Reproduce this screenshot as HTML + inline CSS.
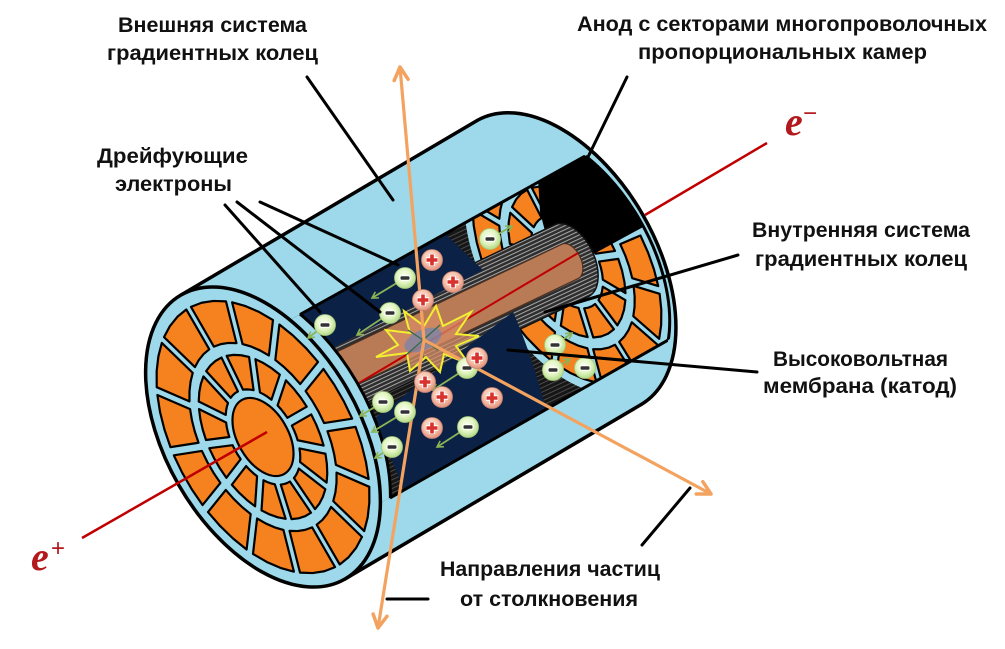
<!DOCTYPE html>
<html><head><meta charset="utf-8">
<style>
html,body{margin:0;padding:0;background:#fff;width:1005px;height:649px;overflow:hidden}
svg{display:block}
.cell{fill:#f6821f;stroke:#000;stroke-width:2.2px;vector-effect:non-scaling-stroke;stroke-linejoin:round}
.lbl{font-family:"Liberation Sans","DejaVu Sans",sans-serif;font-weight:bold;font-size:21px;fill:#111}
.ptr{stroke:#000;stroke-width:3;fill:none;stroke-linecap:round}
.oar{stroke:#f3a35f;stroke-width:3.2;fill:none;marker-end:url(#oa)}
.gar{stroke:#8cb356;stroke-width:1.8;fill:none;marker-end:url(#ga)}
</style></head><body>
<svg width="1005" height="649" viewBox="0 0 1005 649" xmlns="http://www.w3.org/2000/svg">
<defs>
 <clipPath id="cStrip"><polygon points="285,322.8 700,92.2 700,322 365,512"/></clipPath>
 <clipPath id="cFar"><path d="M494.5,136.4 A145,84 60 0 1 639.5,387.6 L639.5,700 L0,700 L0,0 L494.5,0 Z"/></clipPath>
 <clipPath id="cTube"><path d="M271.8,382.85 L561.8,244.25 A19,11 64.5 0 1 578.2,278.55 L288.2,417.15 Z"/></clipPath>
 <pattern id="hatch" width="3.6" height="4" patternUnits="userSpaceOnUse" patternTransform="rotate(65)">
  <rect width="3.6" height="4" fill="#2e2e2e"/><rect width="1" height="4" fill="#a8a8a8"/>
 </pattern>
 <pattern id="hatch2" width="4" height="4" patternUnits="userSpaceOnUse" patternTransform="rotate(65)">
  <rect width="4" height="4" fill="#161616"/><rect width="1" height="4" fill="#4a4a4a"/>
 </pattern>
 <radialGradient id="gEl" cx="0.45" cy="0.4" r="0.6">
  <stop offset="0" stop-color="#fbfff0"/><stop offset="0.55" stop-color="#e3f5c4"/><stop offset="1" stop-color="#b3da85"/>
 </radialGradient>
 <radialGradient id="gIon" cx="0.45" cy="0.4" r="0.6">
  <stop offset="0" stop-color="#fff0e6"/><stop offset="0.55" stop-color="#f6c6b0"/><stop offset="1" stop-color="#e2907a"/>
 </radialGradient>
 <marker id="oa" markerUnits="userSpaceOnUse" markerWidth="30" markerHeight="30" viewBox="-15 -15 30 30" refX="0" refY="0" orient="auto">
  <path d="M-13,-7 L0,0 L-13,7" stroke="#f3a35f" stroke-width="3.5" fill="none" stroke-linecap="round" stroke-linejoin="round"/>
 </marker>
 <marker id="ga" markerUnits="userSpaceOnUse" markerWidth="14" markerHeight="14" viewBox="-7 -7 14 14" refX="0" refY="0" orient="auto">
  <path d="M-6,-3.5 L0,0 L-6,3.5" stroke="#8cb356" stroke-width="1.6" fill="none"/>
 </marker>
 <g id="el"><circle r="10.5" fill="url(#gEl)" stroke="#a6c87c" stroke-width="0.8"/><rect x="-5" y="-2.2" width="10" height="4.4" rx="1.6" fill="#333" stroke="#fff" stroke-width="1"/></g>
 <g id="ion"><circle r="10.5" fill="url(#gIon)" stroke="#c98270" stroke-width="0.8"/><path d="M-6,0H6M0,-6V6" stroke="#fff" stroke-width="5.6"/><path d="M-5.5,0H5.5M0,-5.5V5.5" stroke="#d7322e" stroke-width="3.6"/></g>
</defs>

<!-- beam right segment (behind body) -->
<line x1="645" y1="215" x2="767" y2="143" stroke="#c00000" stroke-width="2.5"/>

<!-- cylinder body -->
<path d="M181,295 L478,120 A164,97 60 0 1 642,404 L345,579 Z" fill="#9dd9ea" stroke="#000" stroke-width="3.5" stroke-linejoin="round"/>

<!-- cut-away interior -->
<g clip-path="url(#cStrip)">
 <g clip-path="url(#cFar)">
  <rect x="240" y="80" width="470" height="510" fill="url(#hatch2)"/>
  <g transform="matrix(72.5,125.6,72.7,-42,567,262)">
   <circle r="1" fill="#9dd9ea"/>
   <g id="farCells"></g>
  </g>
  <polygon points="538,178 582,152 602,165 625,190 645,226 590,256 565,240 545,231 540,212" fill="#000"/>
  <!-- gray gradient rings cylinder -->
  <path d="M262.9,364.2 L554.9,224.6 A39.7,23 64.5 0 1 589.1,296.2 L297.1,435.8 Z" fill="url(#hatch)" stroke="#111" stroke-width="1.5"/>
  <!-- brown tube -->
  <path d="M271.8,382.85 L561.8,244.25 A19,11 64.5 0 1 578.2,278.55 L288.2,417.15 Z" fill="#b97a56" stroke="#4a2e20" stroke-width="1.2"/>
  <line x1="300" y1="418" x2="600" y2="240" stroke="#c00000" stroke-width="2" clip-path="url(#cTube)"/>
  <!-- navy membrane panels -->
  <polygon points="262,336 443,232 483,270 323,353 262,392" fill="#0b2145"/>
  <path d="M375,418 L450,360 L513,312 Q530,350 546,409 L404,490 Z" fill="#0b2145"/>
 </g>
 <path d="M494.5,136.4 A145,84 60 0 1 639.5,387.6" fill="none" stroke="#000" stroke-width="3"/>
 <ellipse cx="273" cy="431" rx="164" ry="97" transform="rotate(60 273 431)" fill="#9dd9ea" stroke="#000" stroke-width="3"/>
</g>
<g clip-path="url(#cFar)">
 <line x1="300" y1="314.5" x2="700" y2="92.2" stroke="#000" stroke-width="3"/>
 <line x1="390" y1="498" x2="700" y2="322" stroke="#000" stroke-width="3"/>
</g>

<!-- left end cap -->
<g transform="matrix(82,142,84,-48.5,263,437)">
 <circle r="1" fill="#9dd9ea" stroke="#000" stroke-width="3.5px" vector-effect="non-scaling-stroke"/>
 <g id="capCells"></g>
 <circle r="0.26" class="cell"/>
</g>

<!-- beam left segment -->
<line x1="82" y1="538" x2="267" y2="432" stroke="#c00000" stroke-width="2.5"/>

<!-- collision star -->
<path d="M376,357 L398,345 L386,330 L410,333 L404,311 L424,326 L436,306 L443,326 L471,312 L456,334 L479,336 L456,346 L469,364 L444,354 L440,372 L426,357 L410,371 L407,353 Z" fill="rgba(214,140,100,0.75)" stroke="#f2ee30" stroke-width="2"/>
<ellipse cx="423" cy="340" rx="20" ry="10" fill="rgba(90,130,200,0.55)" transform="rotate(-25 423 340)"/>
<path d="M408,330 L438,350 M440,325 L406,355 M423,322 L423,358" stroke="#2f6a4a" stroke-width="1.2"/>

<!-- particle tracks -->
<line class="oar" x1="424" y1="340" x2="400" y2="67"/>
<line class="oar" x1="424" y1="340" x2="378" y2="628"/>
<line class="oar" x1="424" y1="340" x2="711" y2="494"/>

<!-- electron drift arrows -->
<line class="gar" x1="405" y1="278" x2="372" y2="298"/>
<line class="gar" x1="390" y1="313" x2="357" y2="335"/>
<line class="gar" x1="325" y1="325" x2="308" y2="338"/>
<line class="gar" x1="490" y1="239" x2="512" y2="226"/>
<line class="gar" x1="467" y1="368" x2="433" y2="390"/>
<line class="gar" x1="383" y1="402" x2="360" y2="416"/>
<line class="gar" x1="405" y1="412" x2="372" y2="432"/>
<line class="gar" x1="392" y1="447" x2="375" y2="458"/>
<line class="gar" x1="468" y1="427" x2="437" y2="447"/>
<line class="gar" x1="555" y1="345" x2="572" y2="333"/>
<line class="gar" x1="553" y1="370" x2="570" y2="359"/>

<!-- ions -->
<use href="#ion" x="432" y="260"/>
<use href="#ion" x="453" y="282"/>
<use href="#ion" x="423" y="300"/>
<use href="#ion" x="425" y="382"/>
<use href="#ion" x="442" y="397"/>
<use href="#ion" x="492" y="398"/>
<use href="#ion" x="432" y="428"/>
<!-- electrons -->
<use href="#el" x="405" y="278"/>
<use href="#el" x="390" y="313"/>
<use href="#el" x="325" y="325"/>
<use href="#el" x="490" y="239"/>
<use href="#el" x="467" y="368"/>
<use href="#el" x="383" y="402"/>
<use href="#el" x="405" y="412"/>
<use href="#el" x="392" y="447"/>
<use href="#el" x="468" y="427"/>
<use href="#el" x="555" y="345"/>
<use href="#el" x="553" y="370"/>
<use href="#el" x="585" y="368"/>
<use href="#ion" x="477" y="358"/>

<!-- pointer lines -->
<line class="ptr" x1="307" y1="77" x2="393" y2="200"/>
<line class="ptr" x1="627" y1="77" x2="588" y2="157"/>
<line class="ptr" x1="225" y1="205" x2="320" y2="312"/>
<line class="ptr" x1="237" y1="202" x2="380" y2="312"/>
<line class="ptr" x1="260" y1="202" x2="398" y2="265"/>
<line class="ptr" x1="738" y1="255" x2="545" y2="312"/>
<line class="ptr" x1="757" y1="372" x2="508" y2="350"/>
<line class="ptr" x1="642" y1="545" x2="690" y2="488"/>
<line class="ptr" x1="387" y1="599" x2="428" y2="599"/>

<!-- labels -->
<text class="lbl" x="118" y="32" textLength="189" lengthAdjust="spacingAndGlyphs">Внешняя система</text>
<text class="lbl" x="107" y="60" textLength="211" lengthAdjust="spacingAndGlyphs">градиентных колец</text>
<text class="lbl" x="97" y="163" textLength="151" lengthAdjust="spacingAndGlyphs">Дрейфующие</text>
<text class="lbl" x="115" y="191" textLength="117" lengthAdjust="spacingAndGlyphs">электроны</text>
<text class="lbl" x="577" y="31" textLength="410" lengthAdjust="spacingAndGlyphs">Анод с секторами многопроволочных</text>
<text class="lbl" x="638" y="59" textLength="289" lengthAdjust="spacingAndGlyphs">пропорциональных  камер</text>
<text class="lbl" x="752" y="237" textLength="218" lengthAdjust="spacingAndGlyphs">Внутренняя система</text>
<text class="lbl" x="755" y="266" textLength="212" lengthAdjust="spacingAndGlyphs">градиентных колец</text>
<text class="lbl" x="773" y="366" textLength="175" lengthAdjust="spacingAndGlyphs">Высоковольтная</text>
<text class="lbl" x="763" y="393" textLength="194" lengthAdjust="spacingAndGlyphs">мембрана (катод)</text>
<text class="lbl" x="440" y="576" textLength="220" lengthAdjust="spacingAndGlyphs">Направления частиц</text>
<text class="lbl" x="460" y="606" textLength="178" lengthAdjust="spacingAndGlyphs">от столкновения</text>

<text x="31" y="570" font-family="Liberation Serif, serif" font-style="italic" font-weight="bold" font-size="40" fill="#b3191c">e</text>
<text x="51" y="556" font-family="Liberation Sans, sans-serif" font-size="24" fill="#b3191c">+</text>
<text x="785" y="135" font-family="Liberation Serif, serif" font-style="italic" font-weight="bold" font-size="40" fill="#b3191c">e</text>
<text x="803" y="121" font-family="Liberation Sans, sans-serif" font-size="24" fill="#b3191c">−</text>
</svg>
<script>
(function(){
 var NS="http://www.w3.org/2000/svg";
 function ring(id,n,r1,r2,off,gap){
  var g=document.getElementById(id);
  for(var i=0;i<n;i++){
   var a0=off+i*2*Math.PI/n, a1=a0+2*Math.PI/n;
   var ri=r1+gap/2, ro=r2-gap/2, pts=[], k, a, st=3;
   for(k=0;k<=st;k++){a=(a0+gap/2/ro)+(a1-a0-gap/ro)*k/st;pts.push((ro*Math.cos(a)).toFixed(4)+","+(ro*Math.sin(a)).toFixed(4));}
   for(k=st;k>=0;k--){a=(a0+gap/2/ri)+(a1-a0-gap/ri)*k/st;pts.push((ri*Math.cos(a)).toFixed(4)+","+(ri*Math.sin(a)).toFixed(4));}
   var p=document.createElementNS(NS,"polygon");
   p.setAttribute("points",pts.join(" "));
   p.setAttribute("class","cell");
   g.appendChild(p);
  }
 }
 ring("capCells",13,0.29,0.575,0.12,0.055);
 ring("capCells",14,0.60,0.935,0.0,0.055);
 ring("farCells",11,0.32,0.60,0.2,0.06);
 ring("farCells",13,0.63,0.95,0.05,0.06);
})();
</script>
</body></html>
